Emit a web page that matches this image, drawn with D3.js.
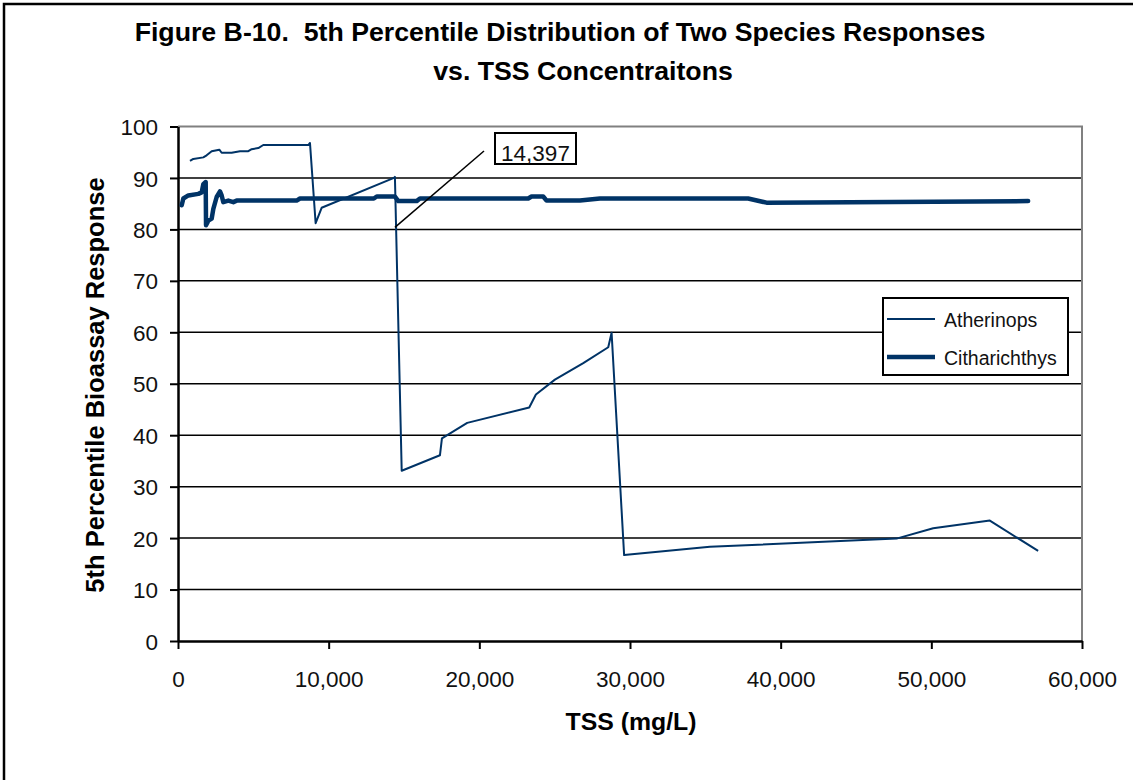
<!DOCTYPE html>
<html>
<head>
<meta charset="utf-8">
<script src="https://cdn.jsdelivr.net/npm/d3@7"></script>
<style>
  body { margin: 0; background: #fff; }
  svg { display: block; font-family: "Liberation Sans", Arial, sans-serif; }
</style>
</head>
<body>
<svg id="chart" width="1133" height="780"></svg>
<script>
// values (TSS mg/L, 5th percentile response)
const atherX = [796, 1017, 1680, 1900, 2235, 2742, 2897, 3560, 4114, 4667, 4888, 5330, 5660, 8647, 8760, 9135, 9533,
  14335, 14397, 14848, 17385, 17518, 19195, 23312, 23755, 25016, 26898, 28557, 28778, 29610, 35302, 47690, 50123, 53883, 57088];
const atherY = [93.3, 93.7, 94.0, 94.4, 95.2, 95.5, 94.9, 94.9, 95.2, 95.2, 95.6, 95.8, 96.4, 96.4, 96.8, 81.2, 84.2,
  90.0, 90.2, 33.1, 36.1, 39.4, 42.4, 45.4, 47.9, 50.8, 54.0, 57.1, 59.9, 16.7, 18.3, 19.9, 21.9, 23.4, 17.5];

const cithX = [245, 354, 686, 1349, 1570, 1680, 1838, 1860, 2014, 2235, 2345, 2566, 2787, 2897, 3008, 3340, 3672, 3893,
  7875, 8096, 13000, 13190, 14397, 14620, 15838, 16058, 23245, 23466, 24240, 24462, 26676, 28004, 37838, 39064, 56425];
const cithY = [84.7, 86.0, 86.6, 86.9, 87.2, 88.8, 89.2, 80.8, 81.7, 82.1, 84.0, 86.3, 87.4, 86.6, 85.3, 85.6, 85.3, 85.6,
  85.6, 86.0, 86.0, 86.4, 86.4, 85.5, 85.5, 86.0, 86.0, 86.4, 86.4, 85.6, 85.6, 86.0, 86.0, 85.2, 85.5];

const seriesNames = ['Atherinops', 'Citharichthys'];
const xTicks = [0, 10000, 20000, 30000, 40000, 50000, 60000];
const yTicks = [0, 10, 20, 30, 40, 50, 60, 70, 80, 90, 100];
const callout = { x: 14397, y: 80.4, label: '14,397' };

const navy = '#003366';
const svg = d3.select('#chart');
const margin = { left: 178, right: 1082, top: 126.5, bottom: 641 };

const x = d3.scaleLinear().domain([0, 60000]).range([margin.left, margin.right]);
const y = d3.scaleLinear().domain([0, 100]).range([margin.bottom, margin.top]);
const fmt = d3.format(',d');

// outer chart border
svg.append('rect')
  .attr('x', 4).attr('y', 4).attr('width', 1200).attr('height', 900)
  .attr('fill', 'none').attr('stroke', '#000').attr('stroke-width', 2.5);

// title (nbsp keeps the double space after "B-10.")
const title = svg.append('g')
  .attr('font-weight', 'bold').attr('font-size', '26.7px')
  .attr('text-anchor', 'middle');
title.append('text').attr('x', 560).attr('y', 41)
  .text('Figure B-10.\u00a0 5th Percentile Distribution of Two Species Responses');
title.append('text').attr('x', 583).attr('y', 80)
  .text('vs. TSS Concentraitons');

// gridlines
svg.append('g')
  .selectAll('line')
  .data(yTicks.filter(d => d > 0 && d < 100))
  .enter()
  .append('line')
  .attr('x1', margin.left).attr('x2', margin.right)
  .attr('y1', d => y(d)).attr('y2', d => y(d))
  .attr('stroke', '#000').attr('stroke-width', 1.5);

// gray top and right frame
svg.append('path')
  .attr('d', `M${margin.left},${margin.top}H${margin.right}V${margin.bottom}`)
  .attr('fill', 'none').attr('stroke', '#808080').attr('stroke-width', 2);

// axes
const yAxis = svg.append('g')
  .attr('transform', `translate(${margin.left},0)`)
  .call(d3.axisLeft(y).tickValues(yTicks).tickSize(8).tickSizeOuter(0).tickPadding(12));
const xAxis = svg.append('g')
  .attr('transform', `translate(0,${margin.bottom})`)
  .call(d3.axisBottom(x).tickValues(xTicks).tickFormat(fmt).tickSize(8).tickSizeOuter(0).tickPadding(22));

[yAxis, xAxis].forEach(ax => {
  ax.select('.domain').attr('stroke', '#000').attr('stroke-width', 2.5);
  ax.selectAll('.tick line').attr('stroke', '#000').attr('stroke-width', 2);
  ax.selectAll('.tick text')
    .attr('font-family', '"Liberation Sans", Arial, sans-serif')
    .attr('font-size', '22.5px').attr('fill', '#111');
});
yAxis.selectAll('.tick text').attr('dy', '0.36em');

// axis titles
svg.append('text')
  .attr('transform', `translate(104,385) rotate(-90)`)
  .attr('text-anchor', 'middle').attr('font-weight', 'bold').attr('font-size', '25.5px')
  .text('5th Percentile Bioassay Response');
svg.append('text')
  .attr('x', 631).attr('y', 730)
  .attr('text-anchor', 'middle').attr('font-weight', 'bold').attr('font-size', '24.8px')
  .text('TSS (mg/L)');

// series
const line = d3.line().x(d => x(d[0])).y(d => y(d[1]));
const ather = atherX.map((v, i) => [v, atherY[i]]);
const cith = cithX.map((v, i) => [v, cithY[i]]);

svg.append('path').datum(ather)
  .attr('d', line).attr('fill', 'none')
  .attr('stroke', navy).attr('stroke-width', 2).attr('stroke-linejoin', 'round');
svg.append('path').datum(cith)
  .attr('d', line).attr('fill', 'none')
  .attr('stroke', navy).attr('stroke-width', 4.5)
  .attr('stroke-linejoin', 'round').attr('stroke-linecap', 'round');

// callout
svg.append('line')
  .attr('x1', x(callout.x)).attr('y1', y(callout.y))
  .attr('x2', 484).attr('y2', 151)
  .attr('stroke', '#000').attr('stroke-width', 1.5);
svg.append('rect')
  .attr('x', 495).attr('y', 133).attr('width', 81).attr('height', 31)
  .attr('fill', '#fff').attr('stroke', '#000').attr('stroke-width', 2);
svg.append('text')
  .attr('x', 535.5).attr('y', 160.5).attr('text-anchor', 'middle')
  .attr('font-size', '22.5px').attr('fill', '#111')
  .text(callout.label);

// legend
const legend = svg.append('g').attr('transform', 'translate(883,298)');
legend.append('rect')
  .attr('width', 185).attr('height', 77)
  .attr('fill', '#fff').attr('stroke', '#000').attr('stroke-width', 2);
const item = legend.selectAll('g.item')
  .data(seriesNames)
  .enter()
  .append('g')
  .attr('transform', (d, i) => `translate(0,${21 + i * 38})`);
item.append('line')
  .attr('x1', 4).attr('x2', 52)
  .attr('stroke', navy).attr('stroke-width', (d, i) => (i === 0 ? 2 : 4.5));
item.append('text')
  .attr('x', 61).attr('y', 8)
  .attr('font-size', '19.5px').attr('fill', '#111')
  .text(d => d);
</script>
</body>
</html>
